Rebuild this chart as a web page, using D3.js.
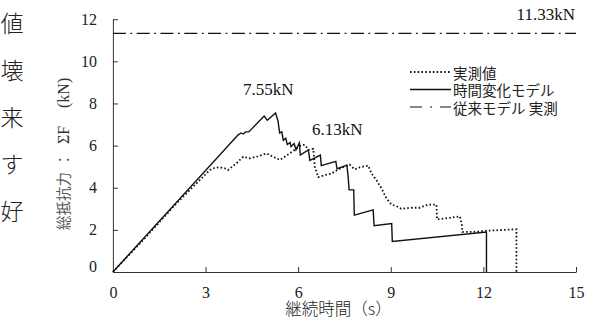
<!DOCTYPE html>
<html><head><meta charset="utf-8">
<script src="https://cdn.jsdelivr.net/npm/d3@7"></script>
<style>
html,body{margin:0;padding:0;background:#fff;}
svg{display:block;}
</style></head>
<body>
<script>
// ---- data ----
const modelTime  = [0,4.05,4.15,4.22,4.3,4.4,4.9,5.0,5.27,5.35,5.4,5.47,5.52,5.6,5.65,5.74,5.77,5.87,5.93,6.04,6.07,6.33,6.38,6.72,6.75,7.22,7.26,7.58,7.62,7.65,7.8,7.82,8.43,8.46,9.03,9.05,12.1,12.1];
const modelForce = [0,6.5,6.6,6.55,6.65,6.65,7.4,7.2,7.55,7.15,6.6,6.65,6.25,6.35,6.05,6.15,5.95,6.1,5.8,6.13,5.55,5.8,5.3,5.55,5.05,5.25,4.9,5.07,4.5,3.9,3.9,2.7,2.95,2.2,2.3,1.45,1.9,0];
const measTime  = [0,1.0,2.06,2.6,3.03,3.14,3.3,3.46,3.63,3.73,4.0,4.22,4.43,4.65,4.98,5.19,5.41,5.73,5.95,6.11,6.22,6.33,6.49,6.54,6.65,6.86,7.08,7.24,7.45,7.67,7.83,8.0,8.27,8.38,8.54,8.7,8.86,9.02,9.18,9.34,9.61,9.94,10.2,10.48,10.5,10.91,11.24,11.3,11.32,11.66,12.1,12.42,13.07,13.07];
const measForce = [0,1.55,3.26,4.05,4.68,4.84,4.95,4.97,4.92,4.84,5.16,5.47,5.4,5.47,5.63,5.47,5.32,5.63,5.87,6.03,6.03,5.8,5.85,5.0,4.5,4.6,4.67,4.82,4.97,5.1,4.87,4.97,5.05,4.67,4.35,3.97,3.5,3.2,3.13,3.0,3.05,3.05,3.2,3.2,2.49,2.57,2.64,2.25,1.9,1.9,1.96,1.98,2.03,0];
const conventionalForce = 11.33;
const xTicks = [0,3,6,9,12,15];
const yTicks = [0,2,4,6,8,10,12];
const legendLabels = ["実測値","時間変化モデル","従来モデル 実測"];
const annotations = [
  {text:"7.55kN", t:5.27, f:7.55},
  {text:"6.13kN", t:6.04, f:6.13},
  {text:"11.33kN", t:15, f:11.33}
];
const sideChars = ["値","壊","来","す","好"];

// ---- drawing ----
const W=601,H=326;
const svg=d3.select("body").append("svg").attr("width",W).attr("height",H);
const x=d3.scaleLinear().domain([0,15]).range([112.9,576]);
const y=d3.scaleLinear().domain([0,12]).range([272,19.2]);
const serif="'Liberation Serif','Times New Roman',serif";
const cjk="'Noto Sans CJK JP','Noto Sans',sans-serif";

// side text (cropped body text)
svg.selectAll("text.side").data(sideChars).enter().append("text")
  .attr("x",12).attr("y",(d,i)=>22+i*47).attr("text-anchor","middle")
  .attr("dominant-baseline","central").style("font-family",cjk).style("font-size","23px")
  .style("font-weight","300").attr("fill","#222").text(d=>d);

// axes
const xAxis=d3.axisBottom(x).tickValues(xTicks).tickSizeInner(-5).tickSizeOuter(0).tickFormat(d3.format("d"));
const gx=svg.append("g").attr("transform",`translate(0,${y(0)})`).call(xAxis);
gx.select(".domain").attr("stroke","#333");
gx.selectAll(".tick line").attr("stroke","#333");
gx.selectAll(".tick text").attr("y",0).attr("dy","26px").style("font-family",serif).style("font-size","16px").attr("fill","#222");
gx.selectAll(".tick").filter(d=>d===0).select("line").remove();

const yAxis=d3.axisLeft(y).tickValues(yTicks).tickSizeInner(-5).tickSizeOuter(0).tickFormat(d3.format("d"));
const gy=svg.append("g").attr("transform",`translate(${x(0)},0)`).call(yAxis);
gy.select(".domain").attr("stroke","#333");
gy.selectAll(".tick line").attr("stroke","#333");
gy.selectAll(".tick text").attr("x",-16).attr("dy",d=>d===0?"-0.05em":"0.32em").style("font-family",serif).style("font-size","16px").attr("fill","#222");
gy.selectAll(".tick").filter(d=>d===0).select("line").remove();

// axis titles
svg.append("text").attr("x",338.5).attr("y",315).attr("text-anchor","middle")
  .style("font-family",cjk).style("font-size","16.5px").style("font-weight","300").attr("fill","#222").text("継続時間（s）");
const yl=svg.append("text").attr("transform","translate(69,230) rotate(-90)")
  .style("font-size","14.5px").attr("fill","#555");
yl.append("tspan").attr("x",0).style("font-family",cjk).text("総抵抗力");
yl.append("tspan").attr("x",63).style("font-family",cjk).text("：");
yl.append("tspan").attr("x",86).style("font-family",serif).style("font-size","16px").attr("fill","#333").text("ΣF");
yl.append("tspan").attr("x",122).style("font-family",serif).style("font-size","16px").attr("fill","#333").text("(kN)");

// conventional line
svg.append("line").attr("x1",x(0)).attr("x2",x(15)).attr("y1",y(conventionalForce)).attr("y2",y(conventionalForce))
  .attr("stroke","#111").attr("stroke-width",1.2).attr("stroke-dasharray","13,4.5,1.8,4.5");

const line=d3.line().x(d=>x(d[0])).y(d=>y(d[1]));
const modelData=modelTime.map((t,i)=>[t,modelForce[i]]);
const measData=measTime.map((t,i)=>[t,measForce[i]]);
svg.append("path").datum(measData).attr("d",line).attr("fill","none").attr("stroke","#111")
  .attr("stroke-width",1.8).attr("stroke-dasharray","1.6,2.2");
svg.append("path").datum(modelData).attr("d",line).attr("fill","none").attr("stroke","#111")
  .attr("stroke-width",1.4).attr("stroke-linejoin","miter");

// annotations
const annPos=[[243,95],[312,135],[575,20]];
annotations.forEach((a,i)=>{
  svg.append("text").attr("x",annPos[i][0]).attr("y",annPos[i][1])
    .attr("text-anchor",i===2?"end":"start")
    .style("font-family",serif).style("font-size","17px").attr("fill","#111").text(a.text);
});

// legend
const lg=svg.append("g");
const styles=[{w:1.8,da:"1.6,2.2"},{w:1.4,da:null},{w:1.2,da:"12,8,2,8"}];
legendLabels.forEach((lab,i)=>{
  const yy=72+i*17.5;
  lg.append("line").attr("x1",410).attr("x2",451).attr("y1",yy).attr("y2",yy)
    .attr("stroke","#111").attr("stroke-width",styles[i].w).attr("stroke-dasharray",styles[i].da);
  lg.append("text").attr("x",453).attr("y",yy).attr("dominant-baseline","central")
    .style("font-family",cjk).style("font-size","14.5px").attr("fill","#222").text(lab);
});
</script>
</body></html>
